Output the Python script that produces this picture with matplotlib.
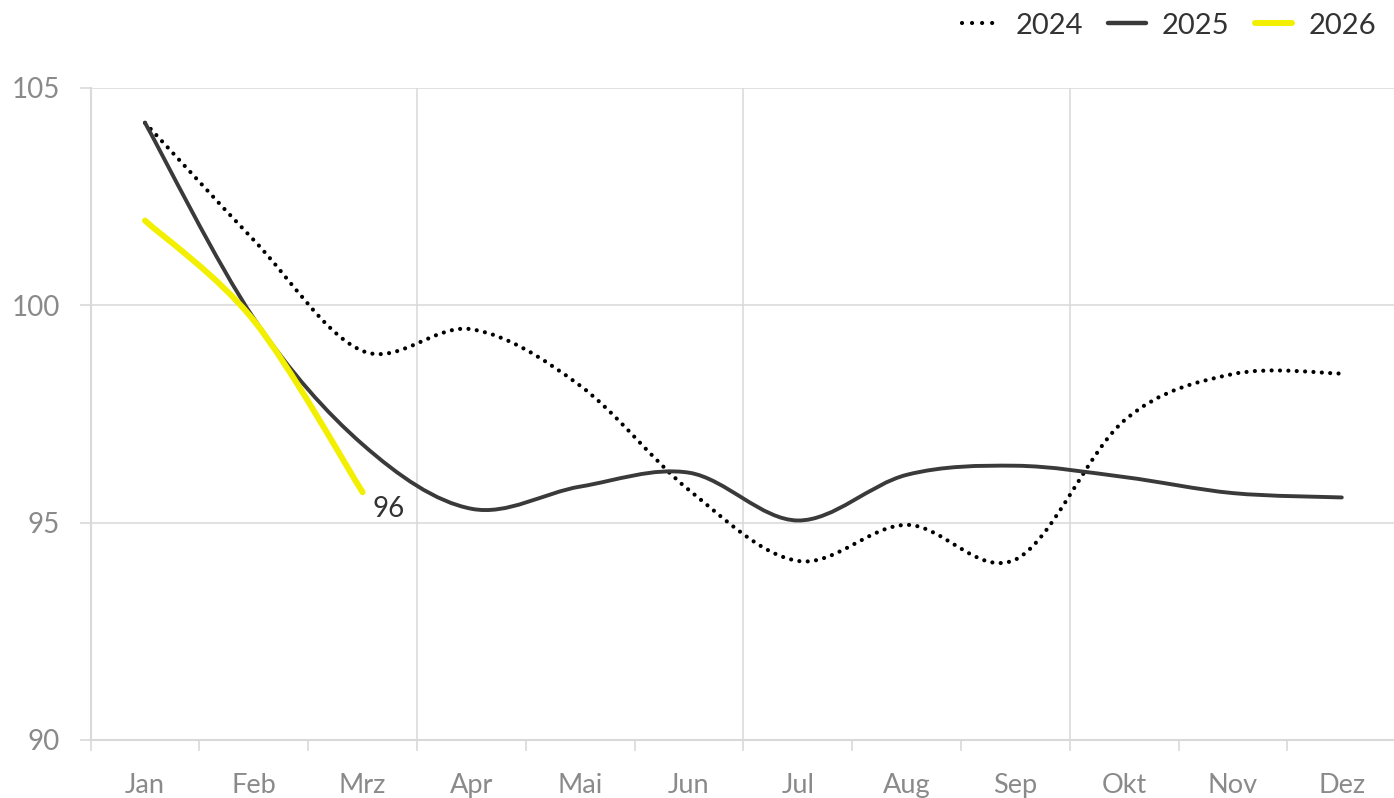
import numpy as np
import matplotlib
matplotlib.use('Agg')
import matplotlib.pyplot as plt
from matplotlib.path import Path
from matplotlib.patches import PathPatch
from matplotlib.lines import Line2D

plt.rcParams['font.family'] = ['Lato', 'DejaVu Sans']

# Daten
monate = ['Jan', 'Feb', 'Mrz', 'Apr', 'Mai', 'Jun', 'Jul', 'Aug', 'Sep', 'Okt', 'Nov', 'Dez']
werte_2024 = [104.2, 101.5, 98.95, 99.45, 98.15, 95.75, 94.12, 94.95, 94.15, 97.35, 98.42, 98.43]
werte_2025 = [104.2, 99.7, 96.8, 95.32, 95.83, 96.15, 95.05, 96.1, 96.31, 96.05, 95.68, 95.58]
werte_2026 = [101.95, 99.65, 95.7]
label_2026 = '96'

grau = '#8a8a8a'
gitter = '#d9d9d9'


def glatt(ax, y, **kw):
    # Excel-artige geglaettete Linie (Bezier-Kurven durch die Punkte)
    x = np.arange(len(y), dtype=float)
    p = np.column_stack([x, np.asarray(y, dtype=float)])
    pp = np.vstack([p[0], p, p[-1]])
    verts = [p[0]]
    codes = [Path.MOVETO]
    for i in range(len(p) - 1):
        c1 = pp[i + 1] + (pp[i + 2] - pp[i]) / 6
        c2 = pp[i + 2] - (pp[i + 3] - pp[i + 1]) / 6
        verts += [c1, c2, p[i + 1]]
        codes += [Path.CURVE4] * 3
    ax.add_patch(PathPatch(Path(verts, codes), fill=False, **kw))


fig = plt.figure(figsize=(13.94, 7.98), dpi=100)
links = 90.6
breite = 12 * 108.8
ax = fig.add_axes([links / 1394, 1 - 740 / 798, breite / 1394, (740 - 88) / 798])

punkt = (0, (0.01, 2.0))
stil_2024 = dict(edgecolor='#000000', lw=3.0, linestyle=punkt, capstyle='round')
stil_2025 = dict(edgecolor='#3a3a3a', lw=2.8, capstyle='round', joinstyle='round')
stil_2026 = dict(edgecolor='#f2f000', lw=4.3, capstyle='round', joinstyle='round')

glatt(ax, werte_2024, zorder=3, **stil_2024)
glatt(ax, werte_2025, zorder=4, **stil_2025)
glatt(ax, werte_2026, zorder=5, **stil_2026)

ax.annotate(label_2026, (len(werte_2026) - 1, werte_2026[-1]), xytext=(7, -12),
            textcoords='offset points', ha='left', va='center', fontsize=20, color='#333333')

ax.set_xlim(-0.5, 11.5)
ax.set_ylim(90, 105)
ax.set_yticks([90, 95, 100, 105])
ax.set_xticks(range(12))
ax.set_xticklabels(monate)
ax.set_xticks(np.arange(-0.5, 11.5, 1), minor=True)
ax.tick_params(axis='x', which='major', length=0, pad=23.5, labelsize=19.5, labelcolor=grau)
ax.tick_params(axis='x', which='minor', length=8, width=1.2, color=gitter, direction='out')
ax.tick_params(axis='y', length=8, width=1.2, color=gitter, pad=14, labelsize=20, labelcolor=grau)

ax.grid(axis='y', color=gitter, lw=1.1)
for xv in [2.5, 5.5, 8.5]:
    ax.axvline(xv, color=gitter, lw=1.1, zorder=0)
ax.set_axisbelow(True)
for s in ['top', 'right']:
    ax.spines[s].set_visible(False)
for s in ['left', 'bottom']:
    ax.spines[s].set_color(gitter)
    ax.spines[s].set_linewidth(1.5)

handles = [
    Line2D([], [], color='#000000', lw=3.0, linestyle=(0, (0.01, 2.4)), dash_capstyle='round'),
    Line2D([], [], color='#3a3a3a', lw=3.2, solid_capstyle='round'),
    Line2D([], [], color='#f2f000', lw=4.3, solid_capstyle='round'),
]
fig.legend(handles, ['2024', '2025', '2026'], loc='upper right', bbox_to_anchor=(1.006, 1.017),
           ncol=3, frameon=False, fontsize=21, handlelength=1.3, handletextpad=0.55,
           columnspacing=0.85, labelcolor='#333333')

plt.savefig('out.png', dpi=100)
